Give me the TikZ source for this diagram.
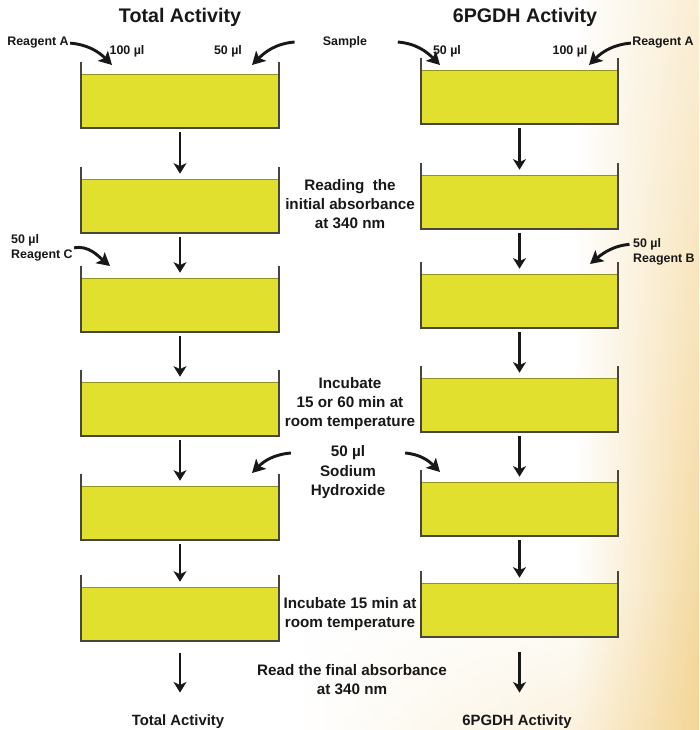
\documentclass[tikz,border=0pt]{standalone}
\usepackage{fontspec}
\setmainfont{Liberation Sans}
\usetikzlibrary{
    arrows.meta,
    positioning,
    fadings
}
\definecolor{wellfill}{RGB}{226,224,46}
\definecolor{wallgray}{RGB}{72,70,60}
\definecolor{inkblack}{RGB}{24,24,24}
\definecolor{bgpale}{RGB}{250,238,212}
\definecolor{bgwarm}{RGB}{244,214,150}
\tikzset{
    well/.style={
        rectangle, inner sep=0pt, fill=wellfill,
        draw=wellfill!65!black, line width=0.4pt,
        minimum width=5.94cm, minimum height=1.62cm
    },
    wall/.style={
        draw=wallgray, line width=1.6pt
    },
    flow/.style={
        draw=inkblack, line width=1.9pt,
        -{Stealth[length=9pt,width=11pt,inset=2.5pt]},
        shorten <=3.4pt, shorten >=4.3pt
    },
    pour/.style={
        draw=inkblack, line width=2.5pt,
        -{Stealth[length=11pt,width=12pt,inset=2.5pt]}
    },
    head/.style={
        font=\bfseries\fontsize{16.8}{19}\selectfont, text=inkblack
    },
    tag/.style={
        font=\bfseries\fontsize{10.6}{12}\selectfont, text=inkblack,
        inner sep=0pt, align=left
    },
    note/.style={
        font=\bfseries\fontsize{13}{16.2}\selectfont, text=inkblack,
        inner sep=0pt, align=center
    },
    result/.style={
        font=\bfseries\fontsize{12.7}{15}\selectfont, text=inkblack,
        inner sep=0pt
    },
}

\begin{document}
\begin{tikzpicture}[x=0.03cm, y=-0.03cm]
    % page and warm backdrop
    \useasboundingbox (0,0) rectangle (699,730);
    \fill[white] (0,0) rectangle (699,730);
    \shade[top color=bgpale, bottom color=bgwarm, path fading=west] (575,0) rectangle (699,730);
    \shade[left color=white, right color=bgwarm, path fading=north, fill opacity=.45] (300,590) rectangle (699,730);

    % wells, left column and right column
    \foreach \i/\bl/\br in {1/128/124, 2/233/229, 3/332/328, 4/436/432, 5/540/536, 6/641/637} {
        \node[well] (L\i) at (180,{\bl-27}) {};
        \draw[wall] (81,{\bl-66}) |- (279,\bl) -- (279,{\bl-66});
        \node[well] (R\i) at (519.5,{\br-27}) {};
        \draw[wall] (421,{\br-66}) |- (618,\br) -- (618,{\br-66});
    }
    \foreach \i [evaluate=\i as \j using int(\i+1)] in {1,...,5} {
        \draw[flow] (L\i) -- (L\j);
        \draw[flow] (R\i) -- (R\j);
    }

    % headings
    \node[head] (ttlL) at (180,17) {Total Activity};
    \node[head] (ttlR) at (525,17) {6PGDH Activity};

    % first additions
    \node[tag] (raL) at (38,43) {Reagent A};
    \node[tag] (volL1) at (127,51) {100 µl};
    \node[tag] (volL2) at (228,51) {50 µl};
    \node[tag] (smp) at (345,42) {Sample};
    \node[tag] (volR1) at (447,51) {50 µl};
    \node[tag] (volR2) at (570,51) {100 µl};
    \node[tag] (raR) at (663,43) {Reagent A};
    \coordinate[left=24pt of smp.west] (smpL);
    \coordinate[right=26pt of smp.east] (smpR);
    \coordinate (tipL1a) at (112,65);
    \coordinate (tipL1b) at (252,65);
    \coordinate (tipR1a) at (440,65);
    \coordinate (tipR1b) at (589,65);
    \draw[pour, shorten <=1pt] (raL.east) to[out=-5,in=135] (tipL1a);
    \draw[pour] (smpL) to[out=185,in=45] (tipL1b);
    \draw[pour] (smpR) to[out=-5,in=135] (tipR1a);
    \draw[pour, shorten <=1pt] (raR.west) to[out=185,in=45] (tipR1b);

    % reading
    \node[note] (readA) at (350,204) {Reading\ \ the\\initial absorbance\\at 340 nm};

    % reagent C and reagent B
    \node[tag, anchor=west] (rgC) at (11,248) {50 µl\\[1pt]Reagent C};
    \node[tag, anchor=west] (rgB50) at (633,244) {50 µl};
    \node[tag, anchor=north west] (rgB) at ([yshift=-3pt]rgB50.south west) {Reagent B};
    \coordinate (tipL3) at (110,266);
    \coordinate (tipR3) at (590,264);
    \draw[pour, shorten <=1pt] (rgC.east) to[out=10,in=140] (tipL3);
    \draw[pour, shorten <=3pt] (rgB50.west) to[out=185,in=40] (tipR3);

    % incubation
    \node[note] (incA) at (350,404) {Incubate\\15 or 60 min at\\room temperature};

    % sodium hydroxide
    \node[note] (naoh50) at (348,453) {50 µl};
    \node[note, anchor=north] (naoh) at ([yshift=-4pt]naoh50.south) {Sodium\\Hydroxide};
    \coordinate[left=34pt of naoh50.west] (naohL);
    \coordinate[right=34pt of naoh50.east] (naohR);
    \coordinate (tipL5) at (252,473);
    \coordinate (tipR5) at (440,472);
    \draw[pour] (naohL) to[out=185,in=45] (tipL5);
    \draw[pour] (naohR) to[out=-5,in=135] (tipR5);

    % second incubation
    \node[note] (incB) at (350,614) {Incubate 15 min at\\room temperature};

    % final reading and results
    \node[note] (readB) at (352,680) {Read the final absorbance\\at 340 nm};
    \node[result] (resL) at (178,722) {Total Activity};
    \node[result] (resR) at (517,722) {6PGDH Activity};
    \draw[flow, shorten <=10pt, shorten >=19pt] (L6) -- (L6 |- resL.north);
    \draw[flow, shorten <=13pt, shorten >=19pt] (R6) -- (R6 |- resR.north);
\end{tikzpicture}
\end{document}
